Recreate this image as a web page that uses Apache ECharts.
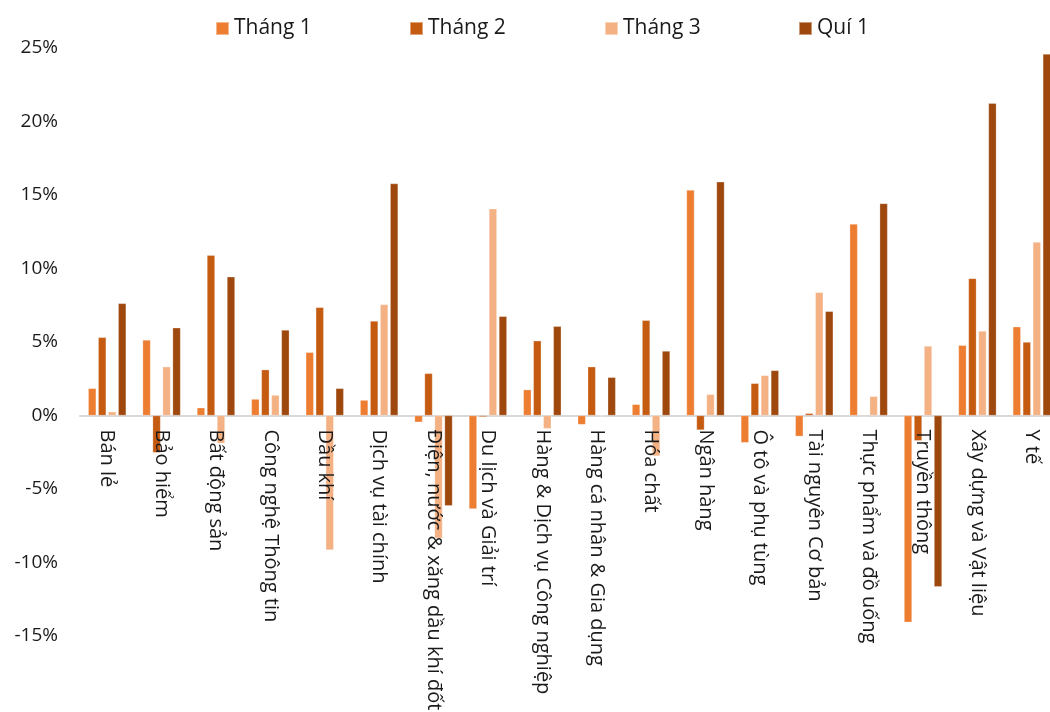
<!DOCTYPE html>
<html>
<head>
<meta charset="utf-8">
<script src="https://cdn.jsdelivr.net/npm/echarts@6/dist/echarts.min.js"></script>
<style>
  html, body { margin: 0; padding: 0; background: #fff; }
  #chart { width: 1050px; height: 712px; }
</style>
</head>
<body>
<div id="chart"></div>
<script>
// Sector categories (x axis)
const categories = [
  'Bán lẻ', 'Bảo hiểm', 'Bất động sản', 'Công nghệ Thông tin', 'Dầu khí',
  'Dịch vụ tài chính', 'Điện, nước & xăng dầu khí đốt', 'Du lịch và Giải trí',
  'Hàng & Dịch vụ Công nghiệp', 'Hàng cá nhân & Gia dụng', 'Hóa chất',
  'Ngân hàng', 'Ô tô và phụ tùng', 'Tài nguyên Cơ bản', 'Thực phẩm và đồ uống',
  'Truyền thông', 'Xây dựng và Vật liệu', 'Y tế'
];

// Returns in percent
const thang1 = [1.85, 5.14, 0.53, 1.12, 4.30, 1.05, -0.46, -6.36, 1.76, -0.62, 0.76, 15.34, -1.85, -1.42, 13.03, -14.07, 4.78, 6.04];
const thang2 = [5.32, -2.53, 10.90, 3.12, 7.36, 6.43, 2.87, -0.10, 5.09, 3.32, 6.48, -0.99, 2.19, 0.15, -0.05, -1.72, 9.33, 5.00];
const thang3 = [0.26, 3.32, -1.90, 1.39, -9.15, 7.56, -8.35, 14.07, -0.90, -0.05, -2.76, 1.44, 2.73, 8.38, 1.31, 4.73, 5.75, 11.80];
const qui1   = [7.63, 5.97, 9.44, 5.82, 1.85, 15.78, -6.14, 6.75, 6.07, 2.60, 4.39, 15.90, 3.07, 7.09, 14.43, -11.65, 21.24, 24.59];

// Y axis range
const yMin = -15, yMax = 25, yStep = 5;

const seriesNames = ['Tháng 1', 'Tháng 2', 'Tháng 3', 'Quí 1'];
const seriesData = [thang1, thang2, thang3, qui1];
const seriesColors = ['#ED7D31', '#C55A11', '#F4B183', '#9E480E'];

const FONT = '"Open Sans", "Noto Sans", sans-serif';
const legendLeft = [210, 404, 599, 793];

// Plot box
const GRID_TOP = 48, GRID_BOTTOM = 76, GRID_H = 712 - GRID_TOP - GRID_BOTTOM;
// Distance from the bottom edge of the plot up to the 0% line
const zeroFromBottom = GRID_H * (0 - yMin) / (yMax - yMin);

const chart = echarts.init(document.getElementById('chart'), null, { renderer: 'canvas' });

chart.setOption({
  animation: false,
  backgroundColor: '#ffffff',
  textStyle: { fontFamily: FONT },
  legend: seriesNames.map((name, i) => ({
    data: [name],
    left: legendLeft[i],
    top: 13,
    itemWidth: 13,
    itemHeight: 13,
    icon: 'rect',
    textStyle: { fontFamily: FONT, fontSize: 21, color: '#1a1a1a' }
  })),
  grid: {
    left: 80, right: -9, top: GRID_TOP, bottom: GRID_BOTTOM,
    containLabel: false,
    outerBoundsMode: 'none'
  },
  xAxis: [
    {
      // baseline at 0%
      type: 'category',
      data: categories,
      axisLine: { onZero: true, lineStyle: { color: '#D9D9D9', width: 2 } },
      axisTick: { show: false },
      axisLabel: { show: false },
      splitLine: { show: false }
    },
    {
      // sector names hanging below the 0% line, drawn over the bars
      type: 'category',
      data: categories,
      position: 'bottom',
      offset: -zeroFromBottom,
      z: 10,
      axisLine: { show: false, onZero: false },
      axisTick: { show: false },
      axisLabel: {
        interval: 0,
        rotate: -90,
        margin: 14,
        fontFamily: FONT,
        fontSize: 20,
        color: '#1a1a1a'
      },
      splitLine: { show: false }
    }
  ],
  yAxis: {
    type: 'value',
    min: yMin,
    max: yMax,
    interval: yStep,
    axisLine: { show: false },
    axisTick: { show: false },
    splitLine: { show: false },
    axisLabel: {
      formatter: '{value}%',
      margin: 22,
      fontFamily: FONT,
      fontSize: 19,
      color: '#1a1a1a'
    }
  },
  series: seriesNames.map((name, i) => ({
    name: name,
    type: 'bar',
    xAxisIndex: 0,
    data: seriesData[i],
    barWidth: 8,
    barGap: '25%',
    itemStyle: {
      color: seriesColors[i],
      borderColor: 'rgba(255,255,255,0.45)',
      borderWidth: 0.6
    }
  }))
});
</script>
</body>
</html>
